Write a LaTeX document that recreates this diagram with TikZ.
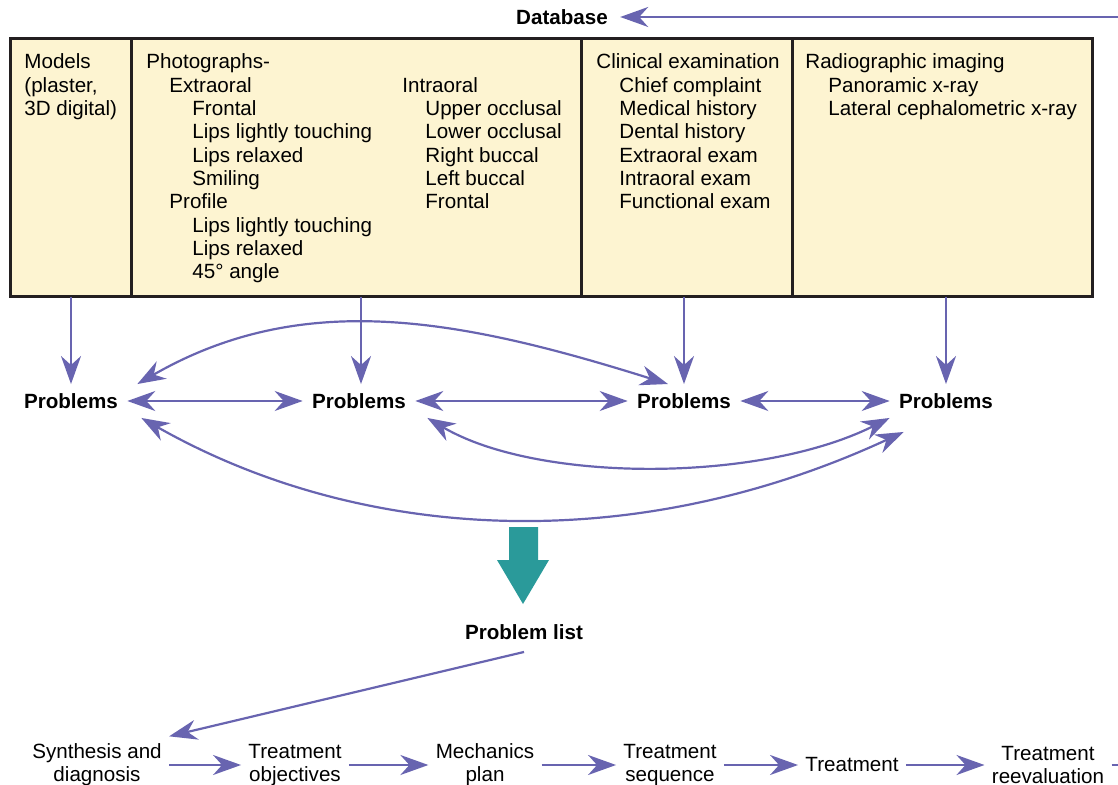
\documentclass[tikz,border=0pt]{standalone}
\usepackage{fontspec}
\setmainfont{Liberation Sans}
\usepackage{tikz}
\usetikzlibrary{arrows.meta}
\usepackage{xcolor}
\definecolor{linkblue}{RGB}{104,100,176}
\definecolor{boxyellow}{RGB}{253,244,209}
\definecolor{boxline}{RGB}{35,31,32}
\definecolor{bigteal}{RGB}{42,154,154}
\newcommand{\diagfont}{\fontsize{10.3}{11.67}\selectfont}
\newcommand{\ind}{\hspace*{11.5pt}}
\tikzset{
    link/.style={draw=linkblue, line width=1.1pt, -{Stealth[length=14pt, width=10pt, inset=4.5pt]}},
    twoway/.style={link, {Stealth[length=14pt, width=10pt, inset=4.5pt]}-{Stealth[length=14pt, width=10pt, inset=4.5pt]}},
    databox/.style={draw=boxline, fill=boxyellow, line width=1.5pt, outer sep=0pt},
    divider/.style={draw=boxline, line width=1.5pt},
    listtext/.style={font=\diagfont, align=left, anchor=north west, inner sep=0pt},
    problem/.style={font=\diagfont\bfseries, inner sep=4.5pt},
    stage/.style={font=\diagfont, align=center, inner sep=3.5pt}
}

\begin{document}
\begin{tikzpicture}[x=0.5pt, y=-0.5pt]
    \useasboundingbox (0,0) rectangle (1118,785);
    \clip (0,0) rectangle (1118,785);

    % database table
    \node[problem, inner sep=6pt] (dbase) at (562,17) {Database};
    \coordinate (dbin) at (1118,17);
    \draw[link] (dbin) -- (dbase);
    \node[databox, anchor=north west, minimum width=541pt, minimum height=129pt] (base) at (10,39) {};
    \draw[divider] (131,39) -- (131,297);
    \draw[divider] (581,39) -- (581,297);
    \draw[divider] (792,39) -- (792,297);

    \node[listtext] (models) at (24,52) {\strut Models\\(plaster,\\3D digital)};
    \node[listtext] (photos) at (146,52) {\strut Photographs-\\
        \ind Extraoral\\
        \ind\ind Frontal\\
        \ind\ind Lips lightly touching\\
        \ind\ind Lips relaxed\\
        \ind\ind Smiling\\
        \ind Profile\\
        \ind\ind Lips lightly touching\\
        \ind\ind Lips relaxed\\
        \ind\ind 45° angle};
    \node[listtext] (intra) at (402,75.3) {\strut Intraoral\\
        \ind Upper occlusal\\
        \ind Lower occlusal\\
        \ind Right buccal\\
        \ind Left buccal\\
        \ind Frontal};
    \node[listtext] (clinic) at (596,52) {\strut Clinical examination\\
        \ind Chief complaint\\
        \ind Medical history\\
        \ind Dental history\\
        \ind Extraoral exam\\
        \ind Intraoral exam\\
        \ind Functional exam};
    \node[listtext] (radio) at (805,52) {\strut Radiographic imaging\\
        \ind Panoramic x-ray\\
        \ind Lateral cephalometric x-ray};

    % problems
    \node[problem] (p1) at (71,401) {Problems};
    \node[problem] (p2) at (359,401) {Problems};
    \node[problem] (p3) at (684,401) {Problems};
    \node[problem] (p4) at (946,401) {Problems};
    \foreach \p/\x in {p1/71, p2/361, p3/684, p4/946}
        \draw[link] (\x,297) -- (\x,0 |- \p.north);
    \draw[twoway] (p1) -- (p2);
    \draw[twoway] (p2) -- (p3);
    \draw[twoway] (p3) -- (p4);
    \draw[twoway] ([xshift=5pt]p1.north east) .. controls +(165,-95) and +(-210,-66) .. ([xshift=-8pt]p3.north);
    \draw[twoway] ([xshift=6pt]p2.south east) .. controls +(110,65) and +(-130,65) .. (p4.south west);
    \draw[twoway] ([xshift=7pt]p1.south east) .. controls +(220,125) and +(-270,125) .. ([shift={(7pt,-7pt)}]p4.south west);

    % big arrow to the list
    \fill[bigteal] (509,527) -- (538,527) -- (538,560) -- (549,560) -- (523,604) -- (497,560) -- (509,560) -- cycle;
    \node[problem, inner sep=6pt] (plist) at (524,632) {Problem list};

    % treatment chain
    \node[stage] (synth) at (97,765) {Synthesis and\\diagnosis};
    \node[stage] (object) at (295,765) {Treatment\\objectives};
    \node[stage] (mech) at (485,765) {Mechanics\\plan};
    \node[stage] (seq) at (670,765) {Treatment\\sequence};
    \node[stage] (treat) at (852,765) {Treatment};
    \node[stage] (reeval) at (1048,765) {Treatment\\reevaluation};
    \coordinate (offright) at (1180,765);
    \draw[link] (plist.south) -- (synth.north east);
    \draw[link] (synth) -- (object);
    \draw[link] (object) -- (mech);
    \draw[link] (mech) -- (seq);
    \draw[link] (seq) -- (treat);
    \draw[link] (treat) -- (reeval);
    \draw[link] (reeval) -- (offright);
\end{tikzpicture}
\end{document}
